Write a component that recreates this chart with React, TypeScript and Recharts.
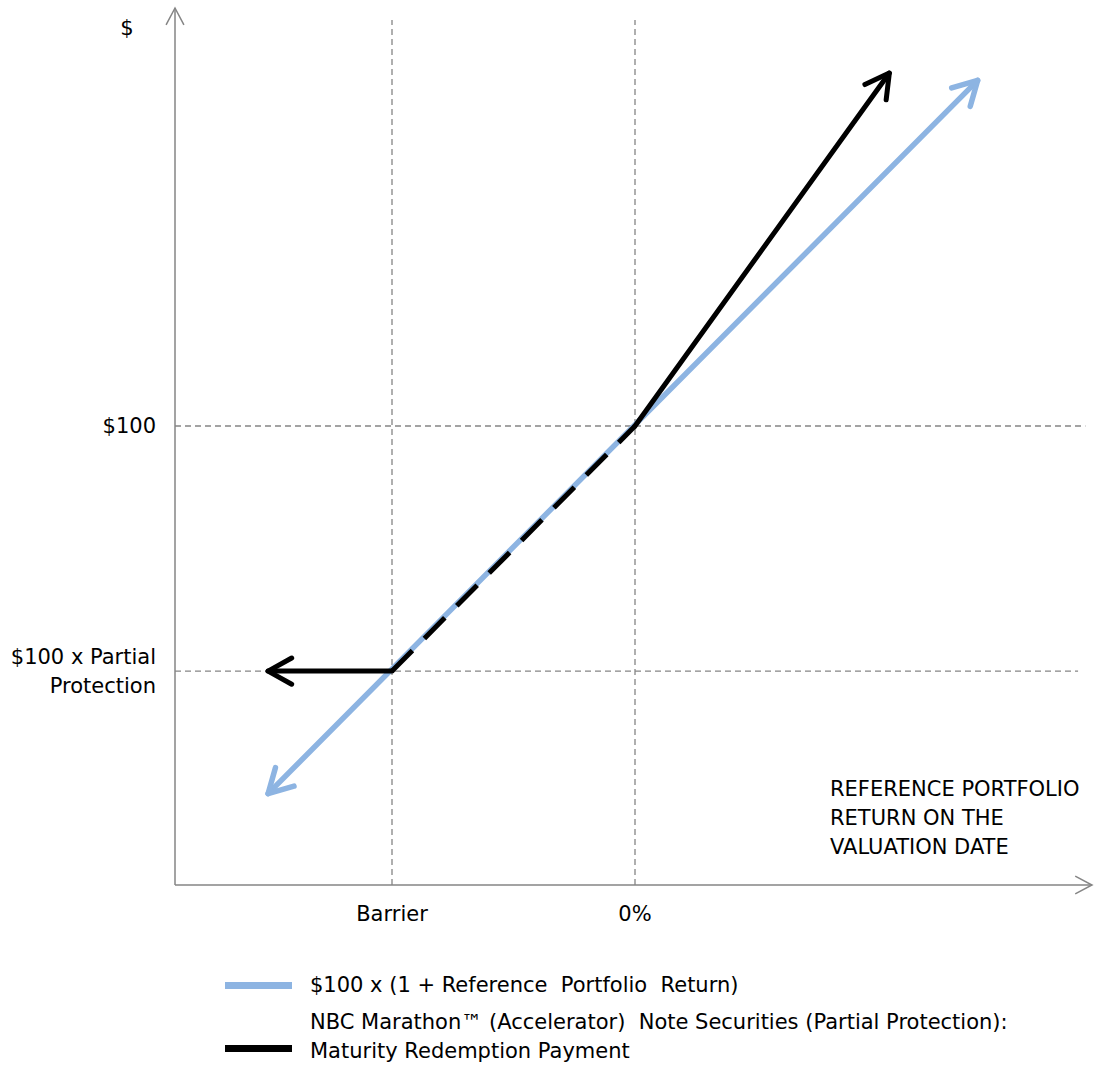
import React from 'react'
import { ComposedChart, Line, XAxis, YAxis, ReferenceLine, Label } from 'recharts'

// x: reference portfolio return (%), y: payment ($)
const refReturnX = [-45.3, 42.3]
const refReturnY = [55, 142.3]

const noteX = [-45.3, -30, 0, 31.4]
const noteY = [70, 70, 100, 143.2]

const xTicks = [-30, 0]
const xTickLabels = ['Barrier', '0%']
const yTicks = [70, 100]
const yTickLabels = [['$100 x Partial', 'Protection'], ['$100']]

const xDomain = [-56.79, 56.42]
const yDomain = [43.82, 151.16]

const gridTop = 149.7
const gridRight = [54.7, 55.6] // right end of the 70 and 100 lines

const axisTitle = ['REFERENCE PORTFOLIO', 'RETURN ON THE', 'VALUATION DATE']
const legendItems = [
  { color: '#8DB4E2', lines: ['$100 x (1 + Reference  Portfolio  Return)'] },
  { color: '#000000', lines: ['NBC Marathon\u2122 (Accelerator)  Note Securities (Partial Protection):', 'Maturity Redemption Payment'] },
]

const FONT = "'DejaVu Sans', sans-serif"
const FS = 21
const BLUE = '#8DB4E2'
const GRAY = '#858585'

const pts = (xs: number[], ys: number[]) => xs.map((x, i) => ({ x, y: ys[i] }))
const blueData = pts(refReturnX, refReturnY)
const notePts = pts(noteX, noteY)
const flatData = notePts.slice(0, 2)
const midData = notePts.slice(1, 3)
const upData = notePts.slice(2, 4)

function chevron(tx: number, ty: number, fx: number, fy: number, len: number, ang: number) {
  const dx = tx - fx
  const dy = ty - fy
  const d = Math.hypot(dx, dy) || 1
  const ux = dx / d
  const uy = dy / d
  const arm = (s: number) => {
    const c = Math.cos(s * ang)
    const sn = Math.sin(s * ang)
    const rx = ux * c - uy * sn
    const ry = ux * sn + uy * c
    return `${tx - rx * len},${ty - ry * len}`
  }
  return `M${arm(1)} L${tx},${ty} L${arm(-1)}`
}

const arrowDot = (ends: ('start' | 'end')[], color: string, width: number) => (p: any) => {
  const points = p.points || []
  const n = points.length
  const key = `d-${p.index}`
  let path = ''
  if (n >= 2 && ends.includes('start') && p.index === 0) {
    path = chevron(points[0].x, points[0].y, points[1].x, points[1].y, 27, (29 * Math.PI) / 180)
  }
  if (n >= 2 && ends.includes('end') && p.index === n - 1) {
    path = chevron(points[n - 1].x, points[n - 1].y, points[n - 2].x, points[n - 2].y, 27, (29 * Math.PI) / 180)
  }
  if (!path) return <g key={key} />
  return (
    <path key={key} d={path} fill="none" stroke={color} strokeWidth={width}
      strokeLinecap="round" strokeLinejoin="round" />
  )
}

const AxisArrow = (p: any) => {
  const { x1, y1, x2, y2 } = p
  return (
    <g>
      <line x1={x1} y1={y1} x2={x2} y2={y2} stroke={GRAY} strokeWidth={1.5} />
      <path d={chevron(x2, y2, x1, y1, 19, (28 * Math.PI) / 180)} fill="none" stroke={GRAY} strokeWidth={1.5} />
    </g>
  )
}

const XTick = (p: any) => {
  const i = xTicks.indexOf(p.payload.value)
  return (
    <text x={p.x} y={p.y} dy={28} textAnchor="middle" fontSize={FS} fontFamily={FONT} fill="#000">
      {xTickLabels[i]}
    </text>
  )
}

const YTick = (p: any) => {
  const i = yTicks.indexOf(p.payload.value)
  const lines = yTickLabels[i] || []
  const start = -((lines.length - 1) * 29) / 2
  return (
    <text x={156} y={p.y} textAnchor="end" fontSize={FS} fontFamily={FONT} fill="#000">
      {lines.map((l, k) => (
        <tspan key={k} x={156} y={p.y + start + k * 29 + 7}>{l}</tspan>
      ))}
    </text>
  )
}

export default function App() {
  return (
    <div style={{ position: 'absolute', left: 0, top: 0, width: 1095, height: 1084, background: '#fff' }}>
      <ComposedChart width={1095} height={1084} margin={{ top: 8, right: 3, bottom: 159, left: 0 }}>
        <XAxis dataKey="x" type="number" domain={xDomain} allowDataOverflow ticks={xTicks}
          tick={<XTick />} tickLine={false} axisLine={false} height={40} interval={0}>
          <Label content={() => (
            <text fontSize={FS} fontFamily={FONT} fill="#000">
              {axisTitle.map((l, k) => (
                <tspan key={k} x={830} y={796 + k * 29}>{l}</tspan>
              ))}
            </text>
          )} />
        </XAxis>
        <YAxis dataKey="y" type="number" domain={yDomain} allowDataOverflow ticks={yTicks}
          tick={<YTick />} tickLine={false} axisLine={false} width={175} interval={0}>
          <Label content={() => (
            <text x={127} y={35} textAnchor="middle" fontSize={FS} fontFamily={FONT} fill="#000">$</text>
          )} />
        </YAxis>

        {xTicks.map((v) => (
          <ReferenceLine key={`v${v}`} segment={[{ x: v, y: yDomain[0] }, { x: v, y: gridTop }]}
            stroke={GRAY} strokeDasharray="6 4" strokeWidth={1.3} />
        ))}
        {yTicks.map((v, i) => (
          <ReferenceLine key={`h${v}`} segment={[{ x: xDomain[0], y: v }, { x: gridRight[i], y: v }]}
            stroke={GRAY} strokeDasharray="6 4" strokeWidth={1.3} />
        ))}
        <ReferenceLine segment={[{ x: xDomain[0], y: yDomain[0] }, { x: xDomain[0], y: yDomain[1] }]} shape={AxisArrow} />
        <ReferenceLine segment={[{ x: xDomain[0], y: yDomain[0] }, { x: xDomain[1], y: yDomain[0] }]} shape={AxisArrow} />

        <Line data={blueData} dataKey="y" stroke={BLUE} strokeWidth={5.5} strokeLinecap="round"
          dot={arrowDot(['start', 'end'], BLUE, 5.5)} activeDot={false} isAnimationActive={false} />
        <Line data={flatData} dataKey="y" stroke="#000" strokeWidth={5} strokeLinecap="round"
          dot={arrowDot(['start'], '#000', 5)} activeDot={false} isAnimationActive={false} />
        <Line data={midData} dataKey="y" stroke="#000" strokeWidth={5} strokeDasharray="29 17"
          dot={false} activeDot={false} isAnimationActive={false} />
        <Line data={upData} dataKey="y" stroke="#000" strokeWidth={5} strokeLinecap="round"
          dot={arrowDot(['end'], '#000', 5)} activeDot={false} isAnimationActive={false} />
      </ComposedChart>

      {legendItems.map((item, i) => (
        <div key={i} style={{ position: 'absolute', left: 225, top: i === 0 ? 971 : 1008, display: 'flex',
          fontFamily: FONT, fontSize: FS, lineHeight: '29px', color: '#000' }}>
          <div style={{ width: 67, height: 7, background: item.color, marginTop: i === 0 ? 11 : 37, marginRight: 18 }} />
          <div style={{ whiteSpace: 'pre' }}>
            {item.lines.map((l, k) => <div key={k}>{l}</div>)}
          </div>
        </div>
      ))}
    </div>
  )
}
